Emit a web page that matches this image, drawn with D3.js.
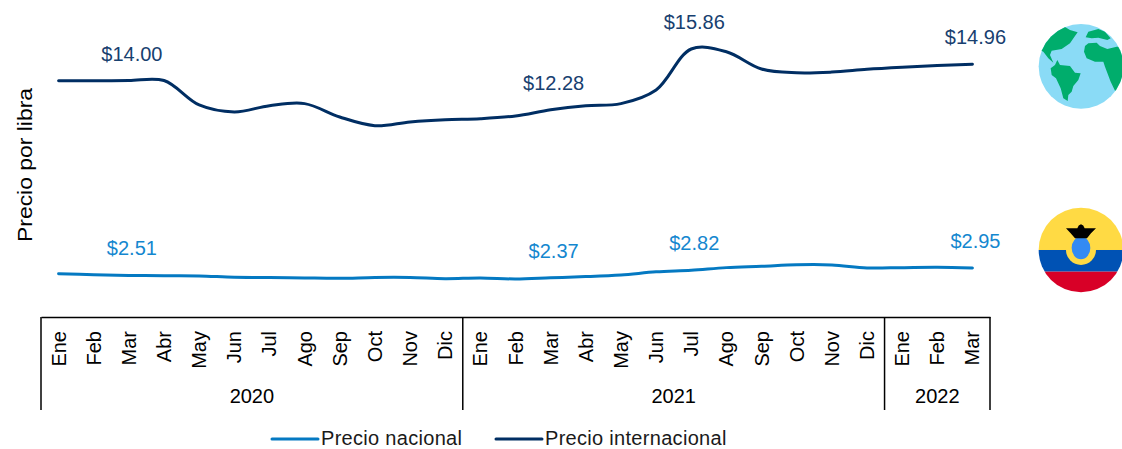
<!DOCTYPE html>
<html lang="es">
<head>
<meta charset="utf-8">
<title>Precio por libra</title>
<script src="https://cdn.jsdelivr.net/npm/d3@7"></script>
<style>
  html, body { margin: 0; background: #fff; }
  svg { display: block; font-family: "Liberation Sans", Arial, sans-serif; }
</style>
</head>
<body>
<svg id="chart" width="1122" height="449"></svg>
<script>
  // data
  const months = ["Ene", "Feb", "Mar", "Abr", "May", "Jun", "Jul", "Ago", "Sep", "Oct", "Nov", "Dic"];
  const years = ["2020", "2021", "2022"];
  const monthsPerYear = [12, 12, 3];
  const precioInternacional = [
    13.99, 13.99, 14.0, 14.0, 12.56, 12.15, 12.52, 12.64, 11.85, 11.34, 11.56, 11.69,
    11.75, 11.91, 12.28, 12.52, 12.64, 13.44, 15.86, 15.7, 14.68, 14.46, 14.5, 14.66,
    14.78, 14.88, 14.96
  ];
  const precioNacional = [
    2.61, 2.55, 2.51, 2.49, 2.48, 2.4, 2.39, 2.36, 2.34, 2.39, 2.39, 2.32,
    2.36, 2.3, 2.37, 2.44, 2.54, 2.72, 2.82, 2.97, 3.05, 3.14, 3.13, 2.95,
    2.97, 2.99, 2.95
  ];
  // indexes of the points that carry a label
  const labeled = [2, 14, 18, 26];

  const azulOscuro = "#002e63";
  const azulClaro = "#0479c2";
  const fontSize = 20;
  const svg = d3.select("#chart");

  // one band per month, ids keep repeated month names apart
  const ids = d3.range(precioNacional.length);
  const monthName = (i) => months[i % 12];
  const x = d3.scaleBand().domain(ids).range([41, 990]);
  const y = d3.scaleLinear().domain([0, 18]).range([318, 12.7]);
  const center = (i) => x(i) + x.bandwidth() / 2;

  const line = d3
    .line()
    .x((d, i) => center(i))
    .y((d) => y(d))
    .curve(d3.curveCatmullRom.alpha(0.5));

  // lines and value labels
  function drawSeries(values, color, labelColor) {
    svg
      .append("path")
      .attr("d", line(values))
      .attr("fill", "none")
      .attr("stroke", color)
      .attr("stroke-width", 3)
      .attr("stroke-linecap", "round");

    svg
      .append("g")
      .selectAll("text")
      .data(labeled)
      .enter()
      .append("text")
      .attr("x", (i) => center(i) + 3)
      .attr("y", (i) => y(values[i]) - 27)
      .attr("dy", "0.35em")
      .attr("text-anchor", "middle")
      .attr("font-size", fontSize)
      .attr("fill", labelColor)
      .text((i) => "$" + d3.format(".2f")(values[i]));
  }
  drawSeries(precioNacional, azulClaro, "#1487cf");
  drawSeries(precioInternacional, azulOscuro, "#17406f");

  // month axis
  const axis = svg
    .append("g")
    .attr("transform", "translate(0,317)")
    .call(d3.axisBottom(x).tickSize(0).tickSizeOuter(0).tickFormat(monthName));
  axis.select(".domain").attr("stroke", "#000").attr("stroke-width", 1.5);
  axis
    .selectAll(".tick text")
    .attr("transform", "rotate(-90)")
    .attr("x", -14)
    .attr("y", 0)
    .attr("dy", "0.35em")
    .attr("text-anchor", "end")
    .attr("font-family", "inherit")
    .attr("font-size", fontSize)
    .attr("fill", "#000");

  // year groups and dividers
  const starts = d3.cumsum([0].concat(monthsPerYear));
  const edge = (n) => (n < ids.length ? x(n) : x.range()[1]);
  svg
    .append("g")
    .selectAll("line")
    .data(starts)
    .enter()
    .append("line")
    .attr("x1", edge)
    .attr("x2", edge)
    .attr("y1", 317)
    .attr("y2", 410)
    .attr("stroke", "#000")
    .attr("stroke-width", 1.5);
  svg
    .append("g")
    .selectAll("text")
    .data(years)
    .enter()
    .append("text")
    .attr("x", (d, i) => (edge(starts[i]) + edge(starts[i + 1])) / 2)
    .attr("y", 396)
    .attr("dy", "0.35em")
    .attr("text-anchor", "middle")
    .attr("font-size", fontSize)
    .attr("fill", "#000")
    .text((d) => d);

  // y title, stretched along its length like the original
  svg
    .append("text")
    .attr("transform", "translate(25,165) rotate(-90)")
    .attr("dy", "0.35em")
    .attr("text-anchor", "middle")
    .attr("font-size", fontSize)
    .attr("textLength", 154)
    .attr("lengthAdjust", "spacingAndGlyphs")
    .attr("fill", "#000")
    .text("Precio por libra");

  // legend
  const legend = [
    { name: "Precio nacional", color: azulClaro, x: 272 },
    { name: "Precio internacional", color: azulOscuro, x: 496 }
  ];
  const item = svg
    .append("g")
    .selectAll("g")
    .data(legend)
    .enter()
    .append("g")
    .attr("transform", (d) => `translate(${d.x},439)`);
  item
    .append("line")
    .attr("x2", 46)
    .attr("stroke", (d) => d.color)
    .attr("stroke-width", 3)
    .attr("stroke-linecap", "round");
  item
    .append("text")
    .attr("x", 49)
    .attr("y", 5.7)
    .attr("font-size", fontSize)
    .attr("letter-spacing", 0.3)
    .attr("fill", "#1a1a1a")
    .text((d) => d.name);

  // icons, traced on a 3x grid
  const defs = svg.append("defs");
  defs.append("clipPath").attr("id", "globeClip").append("circle").attr("cx", 183).attr("cy", 169).attr("r", 127);
  defs.append("clipPath").attr("id", "flagClip").append("circle").attr("cx", 183).attr("cy", 165).attr("r", 127);

  const globe = svg
    .append("g")
    .attr("transform", "translate(1020,10) scale(0.3333)")
    .attr("clip-path", "url(#globeClip)");
  globe.append("rect").attr("width", 320).attr("height", 320).attr("fill", "#8adbf6");
  globe
    .selectAll("path")
    .data([
      "M130,48 L150,60 L173,67 L165,78 L150,100 L125,117 L95,122 L90,135 L100,158 L85,145 L70,125 L50,115 L85,70 L110,50 Z",
      "M112,150 L120,165 L150,168 L165,188 L182,190 L175,210 L160,228 L155,245 L145,255 L143,273 L130,265 L122,235 L108,205 L95,195 L92,175 L105,165 Z",
      "M205,65 L235,57 L255,65 L272,85 L262,90 L235,83 L215,85 L197,82 Z",
      "M205,100 L230,98 L240,108 L262,117 L290,110 L320,110 L320,240 L285,242 L272,215 L255,170 L250,155 L225,155 L200,145 L192,125 L195,108 Z"
    ])
    .enter()
    .append("path")
    .attr("d", (d) => d)
    .attr("fill", "#00ad6c");

  const flag = svg
    .append("g")
    .attr("transform", "translate(1020,195) scale(0.3333)")
    .attr("clip-path", "url(#flagClip)");
  flag.append("rect").attr("width", 320).attr("height", 165).attr("fill", "#ffda44");
  flag.append("rect").attr("y", 165).attr("width", 320).attr("height", 65).attr("fill", "#0052b4");
  flag.append("rect").attr("y", 230).attr("width", 320).attr("height", 80).attr("fill", "#d80027");
  flag.append("circle").attr("cx", 183).attr("cy", 165).attr("r", 45).attr("fill", "#ffda44");
  flag.append("ellipse").attr("cx", 183).attr("cy", 159).attr("rx", 28).attr("ry", 34).attr("fill", "#338af3");
  flag
    .append("path")
    .attr("d", "M183,88 Q175,90 172,100 L138,100 L152,115 L165,130 L201,130 L213,115 L228,100 L194,100 Q191,90 183,88 Z")
    .attr("fill", "#000");
</script>
</body>
</html>
